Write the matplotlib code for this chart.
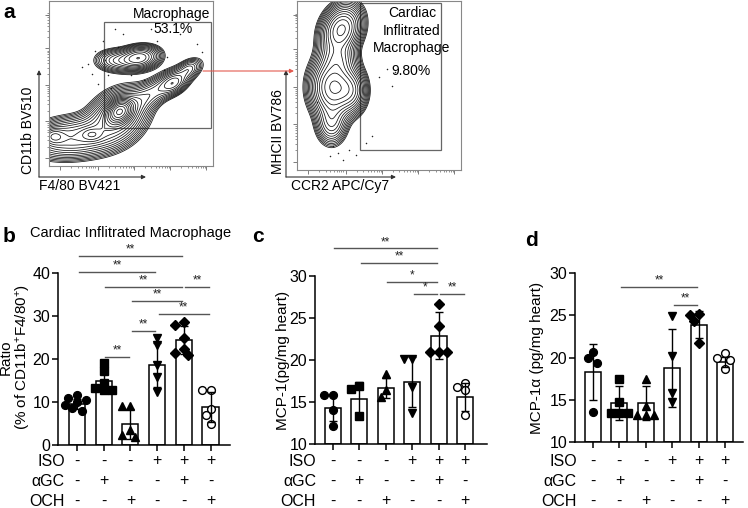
import numpy as np
import matplotlib
matplotlib.use("Agg")
import matplotlib.pyplot as plt
from matplotlib.patches import Rectangle, FancyArrowPatch
import matplotlib.transforms as mtransforms

plt.rcParams['font.family'] = ['Liberation Sans', 'DejaVu Sans']
plt.rcParams['mathtext.fontset'] = 'custom'
plt.rcParams['mathtext.rm'] = 'Liberation Sans'
plt.rcParams['mathtext.it'] = 'Liberation Sans:italic'
plt.rcParams['mathtext.bf'] = 'Liberation Sans:bold'

# ---------------- data ----------------
row_names = ['ISO', 'αGC', 'OCH']
iso_row = ['-', '-', '-', '+', '+', '+']
agc_row = ['-', '+', '-', '-', '+', '-']
och_row = ['-', '-', '+', '-', '-', '+']
markers = ['o', 's', '^', 'v', 'D', 'o']
marker_filled = [True, True, True, True, True, False]

# panel b: cardiac infiltrated macrophage ratio
b_means = [9.6, 14.8, 4.8, 18.7, 24.4, 8.8]
b_sd = [1.2, 2.6, 3.5, 5.1, 3.3, 3.5]
b_points = [[11.6, 11.0, 10.5, 9.9, 9.4, 8.6, 7.9],
            [19.0, 17.2, 14.5, 13.3, 12.8, 12.8],
            [9.0, 9.0, 3.4, 2.3, 1.9],
            [25.0, 23.3, 18.6, 15.9, 12.4],
            [28.7, 27.9, 24.8, 22.3, 21.5, 20.9],
            [12.9, 12.9, 8.3, 7.0, 4.9]]
b_sig = [(0, 4, 44.0, '**'), (0, 3, 40.3, '**'), (1, 4, 36.8, '**'), (4, 5, 36.8, '**'),
         (2, 4, 33.6, '**'), (3, 5, 30.5, '**'), (2, 3, 26.6, '**'), (1, 2, 20.5, '**')]
b_yticks = [0, 10, 20, 30, 40]

# panel c: MCP-1
c_means = [14.3, 15.4, 16.7, 17.4, 22.9, 15.6]
c_sd = [1.6, 2.0, 1.2, 3.0, 2.8, 1.7]
c_points = [[15.8, 15.8, 14.1, 12.2],
            [16.9, 16.5, 13.3],
            [18.3, 16.4, 15.6],
            [20.1, 20.1, 16.8, 13.7],
            [26.7, 24.0, 20.9, 20.9, 20.9],
            [17.3, 16.8, 16.4, 13.5]]
c_sig = [(0, 4, 33.3, '**'), (1, 4, 31.6, '**'), (2, 4, 29.3, '*'), (3, 4, 27.9, '*'), (4, 5, 27.9, '**')]
c_yticks = [10, 15, 20, 25, 30]

# panel d: MCP-1alpha
d_means = [18.3, 14.6, 14.6, 18.8, 23.9, 19.5]
d_sd = [3.3, 2.0, 2.0, 4.6, 1.6, 0.6]
d_points = [[20.6, 19.9, 19.4, 13.5],
            [17.5, 14.7, 13.4, 13.4, 13.4],
            [17.5, 14.3, 13.2, 13.2, 13.2],
            [24.9, 20.2, 15.8, 14.7],
            [25.1, 25.0, 24.3, 21.7],
            [20.5, 19.9, 19.7, 18.6]]
d_sig = [(1, 4, 28.4, '**'), (3, 4, 26.25, '**')]
d_yticks = [10, 15, 20, 25, 30]

# flow plot density model (cluster centre u, v, spread su, sv, angle deg, weight)
left_cu = [0.55, 0.40, 0.43, 0.42, 0.66, 0.76, 0.855, 0.15, 0.26, 0.03]
left_cv = [0.655, 0.64, 0.33, 0.30, 0.46, 0.50, 0.59, 0.17, 0.19, 0.18]
left_su = [0.07, 0.07, 0.045, 0.11, 0.16, 0.05, 0.045, 0.16, 0.04, 0.04]
left_sv = [0.04, 0.04, 0.035, 0.08, 0.045, 0.035, 0.03, 0.07, 0.025, 0.03]
left_ang = [8, 0, 40, 35, 31, 30, 35, 5, 0, 0]
left_w = [0.9, 0.35, 2.5, 0.8, 0.35, 0.35, 0.2, 0.6, 0.35, 0.4]
left_dot_u = [0.24, 0.28, 0.33, 0.36, 0.40, 0.45, 0.30, 0.62, 0.66, 0.70, 0.58, 0.93, 0.90, 0.38, 0.50, 0.26, 0.72, 0.20, 0.42, 0.34, 0.80]
left_dot_v = [0.62, 0.70, 0.76, 0.55, 0.83, 0.80, 0.50, 0.83, 0.76, 0.58, 0.52, 0.69, 0.74, 0.47, 0.55, 0.56, 0.66, 0.60, 0.72, 0.64, 0.80]

right_cu = [0.27, 0.22, 0.33, 0.21, 0.25]
right_cv = [0.83, 0.49, 0.47, 0.28, 0.66]
right_su = [0.06, 0.07, 0.05, 0.05, 0.06]
right_sv = [0.08, 0.09, 0.07, 0.07, 0.06]
right_ang = [-25, 0, 0, 0, 0]
right_w = [1.0, 1.2, 0.5, 0.35, 0.4]
right_dot_u = [0.20, 0.25, 0.28, 0.32, 0.42, 0.46, 0.50, 0.55, 0.60, 0.22, 0.36, 0.12, 0.58]
right_dot_v = [0.08, 0.10, 0.06, 0.12, 0.16, 0.20, 0.55, 0.60, 0.58, 0.14, 0.09, 0.40, 0.50]

W, H = 748, 508
fig = plt.figure(figsize=(W / 100, H / 100), dpi=100)


def px_rect(x0, y0, x1, y1):
    return [x0 / W, 1 - y1 / H, (x1 - x0) / W, (y1 - y0) / H]


def ftext(x, y, s, **kw):
    return fig.text(x / W, 1 - y / H, s, **kw)


def fpos(x, y):
    return (x / W, 1 - y / H)


# ---------------- flow plots ----------------
def density(cu, cv, su, sv, ang, w, n=300):
    u = np.linspace(0, 1, n)
    U, V = np.meshgrid(u, u)
    Z = np.zeros_like(U)
    for a, b, s1, s2, th, ww in zip(cu, cv, su, sv, ang, w):
        t = np.deg2rad(th)
        du, dv = U - a, V - b
        p = du * np.cos(t) + dv * np.sin(t)
        q = -du * np.sin(t) + dv * np.cos(t)
        Z += ww * np.exp(-0.5 * ((p / s1) ** 2 + (q / s2) ** 2))
    return U, V, Z


def flow_axes(rect, cu, cv, su, sv, ang, w, du_, dv_, gate, lo, nlev):
    ax = fig.add_axes(rect)
    U, V, Z = density(cu, cv, su, sv, ang, w)
    levels = Z.max() * np.geomspace(lo, 0.93, nlev)
    ax.contour(U, V, Z, levels=levels, colors='#111111', linewidths=0.55)
    ax.scatter(du_, dv_, s=1.2, color='#222222', linewidths=0)
    ax.add_patch(Rectangle((gate[0], gate[1]), gate[2] - gate[0], gate[3] - gate[1],
                           fill=False, edgecolor='#666666', lw=0.9))
    ax.set_xlim(0, 1)
    ax.set_ylim(0, 1)
    for s in ax.spines.values():
        s.set_color('#888888')
        s.set_linewidth(0.8)
    dec = np.log10(np.arange(1, 10))
    maj = [0.07, 0.30, 0.52, 0.74, 0.96]
    mins = [m + 0.22 * d for m in maj[:-1] for d in dec[1:]]
    ax.set_xticks(maj)
    ax.set_xticks(mins, minor=True)
    ax.set_yticks([0.05, 0.27, 0.49, 0.715, 0.915])
    ax.set_yticks([m + 0.22 * d for m in [0.05, 0.27, 0.49, 0.715] for d in dec[1:]], minor=True)
    ax.tick_params(which='major', length=3, width=0.6, color='#666666', labelleft=False, labelbottom=False)
    ax.tick_params(which='minor', length=1.6, width=0.5, color='#666666')
    return ax


axL = flow_axes(px_rect(49, 1, 213, 166), left_cu, left_cv, left_su, left_sv, left_ang, left_w,
                left_dot_u, left_dot_v, (0.335, 0.23, 0.988, 0.873), 0.02, 20)
axR = flow_axes(px_rect(297, 1, 461, 170), right_cu, right_cv, right_su, right_sv, right_ang, right_w,
                right_dot_u, right_dot_v, (0.384, 0.118, 0.878, 0.988), 0.03, 16)

ftext(172, 14, 'Macrophage', ha='center', va='center', fontsize=10)
ftext(173, 29, '53.1%', ha='center', va='center', fontsize=10)
ftext(412, 13, 'Cardiac', ha='center', va='center', fontsize=10)
ftext(412, 31, 'Inflitrated', ha='center', va='center', fontsize=10)
ftext(412, 48, 'Macrophage', ha='center', va='center', fontsize=10)
ftext(411, 71, '9.80%', ha='center', va='center', fontsize=10)

ftext(28, 130, 'CD11b BV510', rotation=90, ha='center', va='center', fontsize=10)
ftext(80, 186, 'F4/80 BV421', ha='center', va='center', fontsize=10)
ftext(278, 132, 'MHCII BV786', rotation=90, ha='center', va='center', fontsize=10)
ftext(340, 186, 'CCR2 APC/Cy7', ha='center', va='center', fontsize=10)

for (x0, y0, x1, y1) in [(39, 177, 39, 70), (39, 177, 146, 177), (286, 177, 286, 70), (286, 177, 396, 177)]:
    fig.add_artist(FancyArrowPatch(fpos(x0, y0), fpos(x1, y1), transform=fig.transFigure,
                                   arrowstyle='-|>', mutation_scale=6, lw=0.8, color='#333333',
                                   shrinkA=0, shrinkB=0))
fig.add_artist(FancyArrowPatch(fpos(203, 71), fpos(294, 71), transform=fig.transFigure,
                               arrowstyle='-|>', mutation_scale=6, lw=0.8, color='#e35a4f',
                               shrinkA=0, shrinkB=0))

# ---------------- bar panels ----------------
def swarm(vals, pxu, pxx, dmin=7.0):
    cands = [0, -0.17, 0.17, -0.32, 0.32, -0.45, 0.45]
    placed = []
    offs = []
    for v in vals:
        for c in cands:
            ok = all(((c - o) * pxx) ** 2 + ((v - pv) * pxu) ** 2 >= dmin ** 2 for o, pv in placed)
            if ok:
                break
        placed.append((c, v))
        offs.append(c)
    return offs


def bar_panel(rect_px, xlim, ylim, yticks, means, sds, points, sigs, ylabel, ylabel_px, row_x):
    x0, y0, x1, y1 = rect_px
    ax = fig.add_axes(px_rect(x0, y0, x1, y1))
    xs = np.arange(len(means))
    ax.bar(xs, [m - ylim[0] for m in means], bottom=ylim[0], width=0.6, color='white',
           edgecolor='black', linewidth=1.1, zorder=1)
    pxu = (y1 - y0) / (ylim[1] - ylim[0])
    pxx = (x1 - x0) / (xlim[1] - xlim[0])
    for i, pts in enumerate(points):
        offs = swarm(pts, pxu, pxx)
        fc = 'black' if marker_filled[i] else 'white'
        ms = 4.6 if markers[i] == 'D' else 5.6
        ax.plot(xs[i] + np.array(offs), pts, linestyle='none', marker=markers[i], ms=ms,
                mfc=fc, mec='black', mew=1.0, zorder=3, clip_on=False)
    ax.errorbar(xs, means, yerr=sds, fmt='none', ecolor='black', elinewidth=1.0,
                capsize=3.2, capthick=1.0, zorder=4)
    ax.set_xlim(*xlim)
    ax.set_ylim(*ylim)
    ax.set_yticks(yticks)
    ax.set_xticks(xs)
    ax.set_xticklabels([])
    ax.spines['top'].set_visible(False)
    ax.spines['right'].set_visible(False)
    for s in ['left', 'bottom']:
        ax.spines[s].set_linewidth(1.1)
    ax.tick_params(axis='both', length=4, width=1.1, labelsize=11.5, pad=1.5)
    for (i, j, yv, lab) in sigs:
        ax.plot([xs[i] + 0.06, xs[j] - 0.06], [yv, yv], color='#555555', lw=1.0, clip_on=False)
        ax.text((xs[i] + xs[j]) / 2, yv + (ylim[1] - ylim[0]) * 0.002, lab, ha='center', va='bottom',
                fontsize=8.5, color='#222222', clip_on=False)
    tr = mtransforms.blended_transform_factory(ax.transData, fig.transFigure)
    for r, (name, row) in enumerate(zip(row_names, [iso_row, agc_row, och_row])):
        ypx = [461, 481, 501][r]
        ftext(row_x, ypx, name, ha='right', va='center', fontsize=11.5)
        for k, sgn in enumerate(row):
            ax.text(xs[k], 1 - ypx / H, sgn, transform=tr, ha='center', va='center', fontsize=11.5)
    ftext(ylabel_px[0], ylabel_px[1], ylabel, rotation=90, ha='center', va='center',
          fontsize=11, multialignment='center', linespacing=1.05)
    return ax


bar_panel((58, 273, 230, 445), (-0.71, 5.73), (0, 40), b_yticks, b_means, b_sd, b_points, b_sig,
          'Ratio\n(% of CD11b$^{+}$F4/80$^{+}$)', (16, 357), 65)
bar_panel((315, 276, 487, 444), (-0.67, 5.82), (10, 30), c_yticks, c_means, c_sd, c_points, c_sig,
          'MCP-1(pg/mg heart)', (283, 360), 316)
bar_panel((575, 273, 743, 442), (-0.68, 5.68), (10, 30), d_yticks, d_means, d_sd, d_points, d_sig,
          'MCP-1α (pg/mg heart)', (537, 358), 577)

ftext(30, 233, 'Cardiac Inflitrated Macrophage', ha='left', va='center', fontsize=10.5)

for (lx, ly, lab) in [(3, 12, 'a'), (3, 236, 'b'), (252, 236, 'c'), (525, 240, 'd')]:
    ftext(lx, ly, lab, ha='left', va='center', fontsize=15, fontweight='bold')

fig.savefig('out.png', dpi=100)
